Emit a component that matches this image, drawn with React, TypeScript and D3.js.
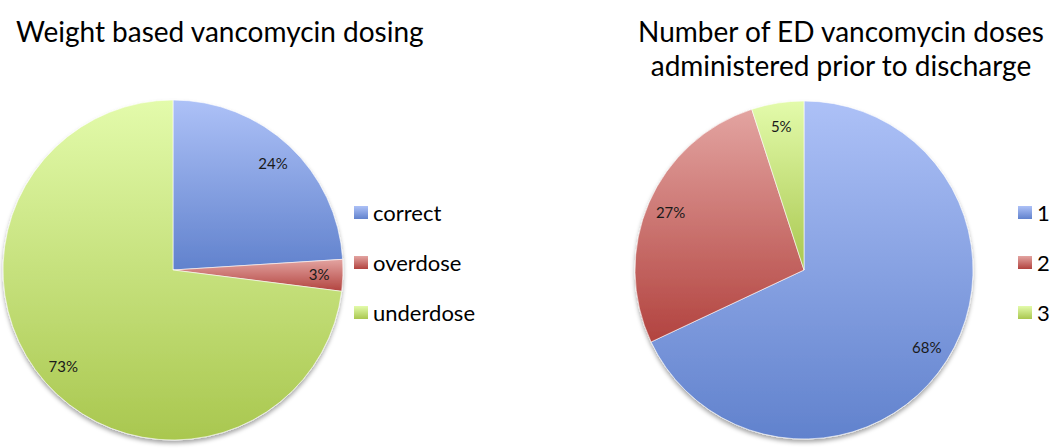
import React, { useEffect, useRef } from 'react'
import * as d3 from 'd3'

// left chart
const dosingTitle = ['Weight based vancomycin dosing']
const dosingLabels = ['correct', 'overdose', 'underdose']
const dosingValues = [24, 3, 73]

// right chart
const doseTitle = ['Number of ED vancomycin doses', 'administered prior to discharge']
const doseLabels = ['1', '2', '3']
const doseValues = [68, 27, 5]

// light top -> dark bottom, one per slice index
const sliceColors = [
    ['#adc1f7', '#6182cd'],
    ['#e3a4a1', '#b2433f'],
    ['#e3fbab', '#a9c74f'],
]

const FONT = 'Lato, Calibri, sans-serif'

function drawPie(svg, id, cx, cy, radius, title, labels, values, legendX, legendY) {
    const g = svg.append('g').attr('class', id)

    // gradients
    const defs = svg.select('defs')
    sliceColors.forEach((c, i) => {
        const lg = defs.append('linearGradient')
            .attr('id', `${id}-grad-${i}`)
            .attr('x1', 0).attr('y1', 0).attr('x2', 0).attr('y2', 1)
        lg.append('stop').attr('offset', '0%').attr('stop-color', c[0])
        lg.append('stop').attr('offset', '100%').attr('stop-color', c[1])
    })

    // title
    g.append('text')
        .attr('x', cx === 173 ? 16 : cx + 37)
        .attr('text-anchor', cx === 173 ? 'start' : 'middle')
        .attr('font-family', FONT)
        .attr('font-size', 28)
        .attr('fill', '#000')
        .selectAll('tspan')
        .data(title)
        .enter()
        .append('tspan')
        .attr('x', cx === 173 ? 16 : cx + 37)
        .attr('y', (d, i) => 42 + i * 34)
        .text(d => d)

    const pie = d3.pie().sort(null).value(d => d)
    const arcs = pie(values)
    const arc = d3.arc().innerRadius(0).outerRadius(radius)
    const labelArc = d3.arc().innerRadius(radius * 0.86).outerRadius(radius * 0.86)

    const body = g.append('g')
        .attr('transform', `translate(${cx},${cy})`)
    const slices = body.append('g').attr('filter', 'url(#pie-shadow)')
    slices.selectAll('path')
        .data(arcs)
        .enter()
        .append('path')
        .attr('d', d => arc(d))
        .attr('fill', (d, i) => `url(#${id}-grad-${i})`)
        .attr('stroke', '#ffffff')
        .attr('stroke-width', 0.6)

    body.selectAll('text.pct')
        .data(arcs)
        .enter()
        .append('text')
        .attr('class', 'pct')
        .attr('transform', d => `translate(${labelArc.centroid(d)})`)
        .attr('text-anchor', 'middle')
        .attr('dy', '0.35em')
        .attr('font-family', FONT)
        .attr('font-size', 15)
        .attr('fill', '#1a1a1a')
        .text(d => `${d.data}%`)

    // legend
    const leg = g.selectAll('g.legend')
        .data(labels)
        .enter()
        .append('g')
        .attr('class', 'legend')
        .attr('transform', (d, i) => `translate(${legendX},${legendY + i * 50})`)
    leg.append('rect')
        .attr('x', 0).attr('y', -7)
        .attr('width', 14).attr('height', 13)
        .attr('fill', (d, i) => `url(#${id}-grad-${i})`)
    leg.append('text')
        .attr('x', 19)
        .attr('dy', '0.35em')
        .attr('font-family', FONT)
        .attr('font-size', 22)
        .attr('fill', '#000')
        .text(d => d)
}

export default function App() {
    const ref = useRef(null)

    useEffect(() => {
        const svg = d3.select(ref.current)
        svg.selectAll('*').remove()
        const defs = svg.append('defs')
        const f = defs.append('filter')
            .attr('id', 'pie-shadow')
            .attr('x', '-10%').attr('y', '-10%')
            .attr('width', '120%').attr('height', '120%')
        f.append('feDropShadow')
            .attr('dx', 0).attr('dy', 3)
            .attr('stdDeviation', 2)
            .attr('flood-color', '#000')
            .attr('flood-opacity', 0.35)

        drawPie(svg, 'dosing', 173, 270, 170, dosingTitle, dosingLabels, dosingValues, 354, 213)
        drawPie(svg, 'doses', 804, 270, 169, doseTitle, doseLabels, doseValues, 1018, 213)
    }, [])

    return (
        <svg
            ref={ref}
            width={1050}
            height={448}
            style={{ position: 'absolute', left: 0, top: 0, background: '#fff' }}
        />
    )
}
